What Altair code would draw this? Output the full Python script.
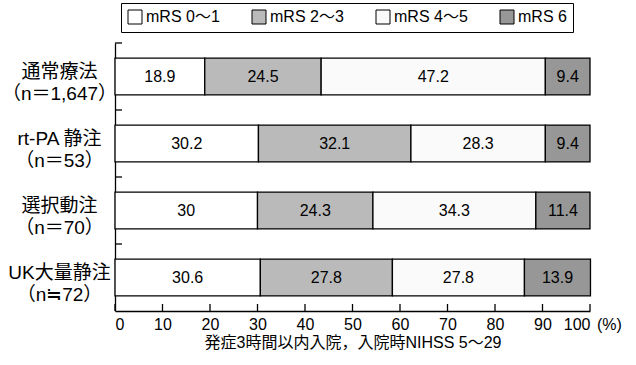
import altair as alt
import pandas as pd

groups = ["通常療法", "rt-PA 静注", "選択動注", "UK大量静注"]
group_n = ["（n＝1,647）", "（n＝53）", "（n＝70）", "（n≒72）"]
categories = ["mRS 0〜1", "mRS 2〜3", "mRS 4〜5", "mRS 6"]
mrs01 = [18.9, 30.2, 30, 30.6]
mrs23 = [24.5, 32.1, 24.3, 27.8]
mrs45 = [47.2, 28.3, 34.3, 27.8]
mrs6 = [9.4, 9.4, 11.4, 13.9]
x_ticks = [0, 10, 20, 30, 40, 50, 60, 70, 80, 90, 100]
colors = ["#ffffff", "#bababa", "#fafafa", "#979797"]

FONT = "Liberation Sans, Noto Sans CJK JP, sans-serif"

keys = [f"{g}|{n}" for g, n in zip(groups, group_n)]
rows = []
for ci, (cat, series) in enumerate(zip(categories, [mrs01, mrs23, mrs45, mrs6])):
    for gi, v in enumerate(series):
        rows.append({"key": keys[gi], "cat": cat, "order": ci, "value": v, "label": f"{v:g}"})
df = pd.DataFrame(rows)
df_groups = pd.DataFrame({"key": keys})
df_ticks = pd.DataFrame({"t": x_ticks})

W, H = 475, 268

yscale = alt.Scale(domain=keys, paddingInner=0, paddingOuter=0)

base = alt.Chart(df).transform_stack(
    stack="value", groupby=["key"], as_=["x0", "x1"], sort=[alt.SortField("order")]
).transform_calculate(mid="(datum.x0 + datum.x1) / 2")

bars = base.mark_bar(height={"band": 0.55}, stroke="black", strokeWidth=1.3).encode(
    x=alt.X("x0:Q", scale=alt.Scale(domain=[0, 100], nice=False),
            axis=alt.Axis(values=x_ticks, ticks=False, tickSize=0, grid=False,
                          labelPadding=5, labelFontSize=16, labelColor="black",
                          domainColor="black", domainWidth=1.3,
                          title="発症3時間以内入院，入院時NIHSS 5〜29",
                          titleFontSize=16, titleFontWeight="normal", titleColor="black",
                          titlePadding=2)),
    x2="x1:Q",
    y=alt.Y("key:N", scale=yscale, sort=keys,
            axis=alt.Axis(title=None, ticks=False, tickSize=0, labelAlign="center",
                          labelBaseline="middle", labelPadding=56, labelFontSize=19,
                          labelLineHeight=22, labelColor="black", labelOffset=-5,
                          labelExpr="split(datum.label, '|')",
                          domainColor="black", domainWidth=1.3)),
    color=alt.Color("cat:N", scale=alt.Scale(domain=categories, range=colors),
                    legend=alt.Legend(title=None, orient="none", legendX=6, legendY=-40,
                                      direction="horizontal", strokeColor="black",
                                      padding=6, symbolType="square", symbolSize=196,
                                      symbolStrokeColor="black", symbolStrokeWidth=1,
                                      labelFontSize=16, labelColor="black",
                                      labelOffset=3, columnPadding=30)),
    order=alt.Order("order:Q"),
)

texts = base.mark_text(fontSize=16, color="black", baseline="middle").encode(
    x=alt.X("mid:Q"),
    y=alt.Y("key:N", scale=yscale, sort=keys),
    text="label:N",
)

yticks = alt.Chart(df_groups).mark_rule(color="black", strokeWidth=1.3).encode(
    y=alt.Y("key:N", scale=yscale, sort=keys, bandPosition=0),
    x=alt.value(0), x2=alt.value(7),
)

xticks = alt.Chart(df_ticks).mark_rule(color="black", strokeWidth=1.3).encode(
    x=alt.X("t:Q"),
    y=alt.value(H - 7), y2=alt.value(H),
)

pct = alt.Chart(pd.DataFrame({"t": [100]})).mark_text(
    text="(%)", fontSize=16, color="black", baseline="middle", align="left", dx=7
).encode(x=alt.X("t:Q"), y=alt.value(H + 14))

chart = alt.layer(bars, texts, yticks, xticks, pct).properties(
    width=W, height=H,
    autosize=alt.AutoSizeParams(type="none"),
    padding={"left": 115, "top": 43, "right": 46, "bottom": 54},
).configure(font=FONT).configure_view(stroke=None)

chart.save("out.html", embed_options={"renderer": "svg", "actions": False})
